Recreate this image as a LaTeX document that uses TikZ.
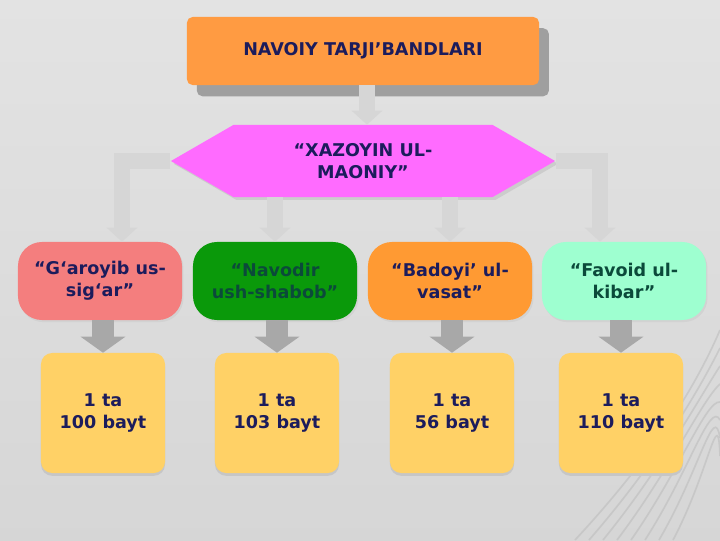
\documentclass[tikz,border=0pt]{standalone}
\usepackage{fontspec}
\setmainfont{DejaVu Sans}
\usetikzlibrary{arrows.meta,shapes.symbols,shadows}
\definecolor{navytext}{HTML}{1C1C5C}
\definecolor{greentext}{HTML}{0B4A3A}
\definecolor{topfill}{HTML}{FF9B42}
\definecolor{hexfill}{HTML}{FF6BFF}
\definecolor{pinkfill}{HTML}{F47E7E}
\definecolor{greenfill}{HTML}{0A990A}
\definecolor{orangefill}{HTML}{FF9A33}
\definecolor{mintfill}{HTML}{9EFFD0}
\definecolor{yellowfill}{HTML}{FFD166}
\definecolor{pipegray}{HTML}{D6D6D6}
\definecolor{pipeedge}{HTML}{B4B4B4}
\definecolor{darkpipe}{HTML}{A8A8A8}
\begin{document}
\begin{tikzpicture}[x=0.025cm,y=-0.025cm,
    every node/.style={font=\bfseries\fontsize{12.5}{15.5}\selectfont,align=center,text=navytext},
    titlebox/.style={fill=topfill,rounded corners=4pt,minimum width=8.8cm,minimum height=1.7cm,
      general shadow={fill=gray!75,shadow xshift=7pt,shadow yshift=-8pt}},
    hexbox/.style={signal,signal to=east and west,signal pointer angle=60,fill=hexfill,
      minimum width=9.6cm,minimum height=1.8cm,
      general shadow={fill=gray!40,shadow xshift=2pt,shadow yshift=-2pt}},
    partbox/.style={rounded corners=0.6cm,minimum width=4.1cm,minimum height=1.95cm,inner sep=1pt,
      general shadow={fill=gray!35,shadow xshift=1pt,shadow yshift=-1.5pt}},
    countbox/.style={fill=yellowfill,rounded corners=8pt,minimum width=3.1cm,minimum height=3cm,
      general shadow={fill=gray!45,shadow xshift=0pt,shadow yshift=-2pt}},
    pipe/.style={draw=pipegray,line width=0.38cm,
      -{Triangle[length=0.35cm,width=0.75cm]},
      preaction={draw=pipeedge,line width=0.46cm}},
    bigpipe/.style={draw=darkpipe,line width=0.55cm,
      -{Triangle[length=0.4cm,width=1.1cm]}}]
  % background
  \shade[top color=gray!22,middle color=gray!4,bottom color=gray!32] (0,0) rectangle (720,540);
  \useasboundingbox (0,0) rectangle (720,540);
  \foreach \i in {0,...,7}
    \draw[gray!55,line width=1.2pt,opacity=0.5]
      (575+14*\i,540) .. controls (640+10*\i,470) and (690+4*\i,400) .. (720,330+18*\i);

  % boxes
  \node[titlebox] (title) at (363,51) {NAVOIY TARJI’BANDLARI};
  \node[hexbox] (xazoyin) at (363,161) {“XAZOYIN UL-\\MAONIY”};

  \node[partbox,fill=pinkfill] (garoyib) at (100,281) {“G‘aroyib us-\\sig‘ar”};
  \node[partbox,fill=greenfill,text=greentext] (navodir) at (275,281) {“Navodir\\ush-shabob”};
  \node[partbox,fill=orangefill] (badoyi) at (450,281) {“Badoyi’ ul-\\vasat”};
  \node[partbox,fill=mintfill,text=greentext] (favoid) at (624,281) {“Favoid ul-\\kibar”};

  \node[countbox] (c1) at (103,413) {1 ta\\100 bayt};
  \node[countbox] (c2) at (277,413) {1 ta\\103 bayt};
  \node[countbox] (c3) at (452,413) {1 ta\\56 bayt};
  \node[countbox] (c4) at (621,413) {1 ta\\110 bayt};

  % connectors
  \begin{scope}[pipe]
    \draw (title.south -| 367,0) -- (xazoyin.north -| 367,0);
    \draw (xazoyin.west) -| ([xshift=22*0.025cm]garoyib.north);
    \draw (xazoyin.east) -| ([xshift=-24*0.025cm]favoid.north);
    \draw (navodir.north |- xazoyin.south) -- (navodir.north);
    \draw (badoyi.north |- xazoyin.south) -- (badoyi.north);
  \end{scope}
  \begin{scope}[bigpipe]
    \draw (c1.north |- garoyib.south) -- (c1.north);
    \draw (c2.north |- navodir.south) -- (c2.north);
    \draw (c3.north |- badoyi.south) -- (c3.north);
    \draw (c4.north |- favoid.south) -- (c4.north);
  \end{scope}
\end{tikzpicture}
\end{document}
